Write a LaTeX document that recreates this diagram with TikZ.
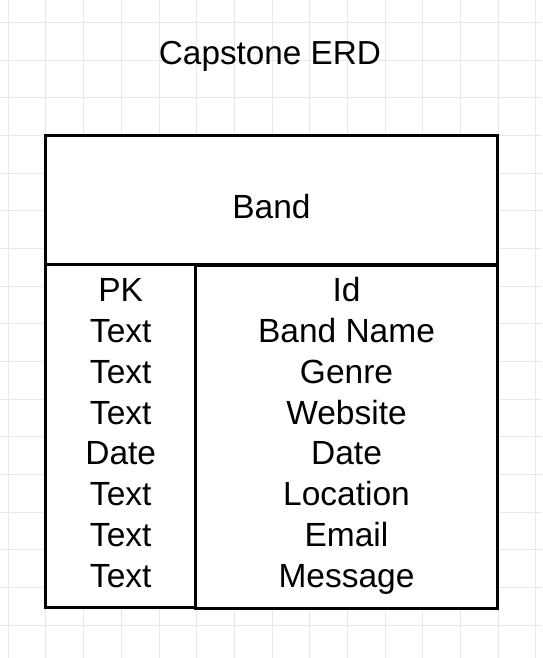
\documentclass[tikz,border=0pt]{standalone}
\usepackage{fontspec}
\setmainfont{Liberation Sans}
\begin{document}
\begin{tikzpicture}[x=1pt,y=-1pt,
  gridline/.style={draw=black!9, line width=1pt},
  tbox/.style={draw=black, fill=white, line width=3pt},
  lbl/.style={inner sep=0pt, anchor=base, font=\fontsize{33.5}{33.5}\selectfont},
  ttl/.style={inner sep=0pt, anchor=base, font=\fontsize{33.3}{33.3}\selectfont}]
\useasboundingbox (0,0) rectangle (542,658);
\fill[white] (0,0) rectangle (542,658);
% grid
\foreach \k in {0,...,14} {
  \draw[gridline] ({8.3+\k*37.68},0) -- ({8.3+\k*37.68},658);
}
\foreach \k in {0,...,16} {
  \draw[gridline] (0,{22.7+\k*37.65}) -- (542,{22.7+\k*37.65});
}
% title
\node[ttl] (title) at (270,65) {Capstone ERD};
% boxes
\draw[tbox] (45.7,135.7) rectangle (497.3,264);
\draw[tbox] (195.7,265) rectangle (497.3,608.7);
\draw[tbox] (45.7,264) rectangle (195.7,607.7);
% header
\node[lbl] (band) at (271.5,218.2) {Band};
% rows
\foreach \l/\r [count=\i from 0] in {PK/Id, Text/Band Name, Text/Genre, Text/Website, Date/Date, Text/Location, Text/Email, Text/Message} {
  \node[lbl] (l\i) at (120.7,{301.9+\i*40.75}) {\l};
  \node[lbl] (r\i) at (346.5,{301.9+\i*40.75}) {\r};
}
\end{tikzpicture}
\end{document}
